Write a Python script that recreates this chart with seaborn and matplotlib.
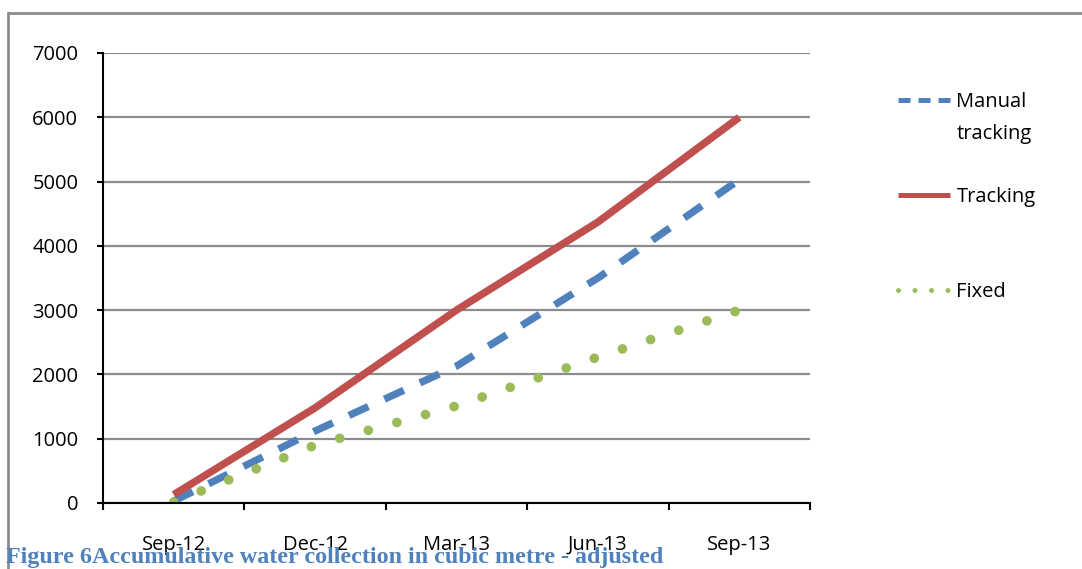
import numpy as np
import matplotlib
matplotlib.use("Agg")
import matplotlib.pyplot as plt
from matplotlib.lines import Line2D
import seaborn as sns

# Quarterly cumulative water collection (cubic metres)
months = ["Sep-12", "Dec-12", "Mar-13", "Jun-13", "Sep-13"]
manual_tracking = [30, 1120, 2130, 3500, 5030]
tracking = [130, 1480, 3000, 4370, 6000]
fixed = [15, 900, 1510, 2270, 3000]
y_ticks = [0, 1000, 2000, 3000, 4000, 5000, 6000, 7000]

caption = "Figure 6Accumulative water collection in cubic metre - adjusted"

BLUE = "#4F81BD"
RED = "#C0504D"
GREEN = "#9BBB59"
GRID = "#8C8C8C"

sns.set_theme(style="white")
plt.rcParams["font.family"] = ["Open Sans", "DejaVu Sans"]

W, H = 1082, 569
fig = plt.figure(figsize=(W / 100, H / 100), dpi=100)
ax = fig.add_axes([103 / W, 66 / H, (810 - 103) / W, (503 - 53) / H])

x = np.arange(len(months))

# Series drawn in workbook order: dashed, solid, round-dotted
sns.lineplot(x=x, y=manual_tracking, ax=ax, color=BLUE, linewidth=5.3,
             linestyle=(0, (2.9, 2.4)), dash_capstyle="butt", zorder=3)
sns.lineplot(x=x, y=tracking, ax=ax, color=RED, linewidth=5.4,
             solid_capstyle="butt", zorder=4)
sns.lineplot(x=x, y=fixed, ax=ax, color=GREEN, linewidth=7.0,
             linestyle=(0, (0.001, 3.05)), dash_capstyle="round", zorder=5)

# Category axis: tick marks between categories, labels centred on them
ax.set_xlim(-0.5, len(months) - 0.5)
ax.set_xticks(np.arange(-0.5, len(months) + 0.5), labels=[])
ax.set_xticks(x, labels=months, minor=True)
ax.tick_params(axis="x", which="major", bottom=True, direction="out",
               length=5, width=1.5, color="black")
ax.tick_params(axis="x", which="minor", bottom=True, length=0, pad=23,
               labelsize=14.5, labelcolor="black")

ax.set_ylim(0, 7000)
ax.set_yticks(y_ticks, labels=[str(v) for v in y_ticks])
ax.tick_params(axis="y", left=True, direction="out", length=4.3, width=1.5,
               color="black", pad=13.5, labelsize=14.5, labelcolor="black")

ax.grid(axis="y", color=GRID, linewidth=1.6, zorder=1)
ax.set_axisbelow(True)
for side in ("top", "right"):
    ax.spines[side].set_visible(False)
for side in ("left", "bottom"):
    ax.spines[side].set_color("black")
    ax.spines[side].set_linewidth(1.5)
    ax.spines[side].set_zorder(6)
ax.set_xlabel("")
ax.set_ylabel("")

# Legend with spacer rows to reproduce the loose vertical layout
blank = Line2D([], [], linestyle="none")
handles = [
    Line2D([], [], color=BLUE, linewidth=3.6, linestyle=(0, (2.4, 1.6))),
    blank, blank,
    Line2D([], [], color=RED, linewidth=3.6, solid_capstyle="butt"),
    blank, blank,
    Line2D([], [], color=GREEN, linewidth=3.6, linestyle=(0, (0.001, 3.3)),
           dash_capstyle="round"),
]
labels = ["Manual", "tracking", " ", "Tracking", " ", " ", "Fixed"]
ax.legend(handles, labels, loc="center left",
          bbox_to_anchor=(898 / W, 1 - 197 / H), bbox_transform=fig.transFigure,
          frameon=False, borderpad=0, borderaxespad=0, handlelength=2.6,
          handletextpad=0.3, labelspacing=0.58, fontsize=14.5, labelcolor="black")

# Chart-area border (top and left edges)
fig.add_artist(Line2D([8 / W, 1.0], [1 - 13 / H, 1 - 13 / H],
                      transform=fig.transFigure, color=GRID, linewidth=2))
fig.add_artist(Line2D([8 / W, 8 / W], [0.0, 1 - 13 / H],
                      transform=fig.transFigure, color=GRID, linewidth=2))

# Figure caption
fig.text(6 / W, 6 / H, caption, ha="left", va="baseline",
         family=["Liberation Serif", "DejaVu Serif"], fontweight="bold",
         fontsize=17.3, color=BLUE)

fig.savefig("out.png", dpi=100)
